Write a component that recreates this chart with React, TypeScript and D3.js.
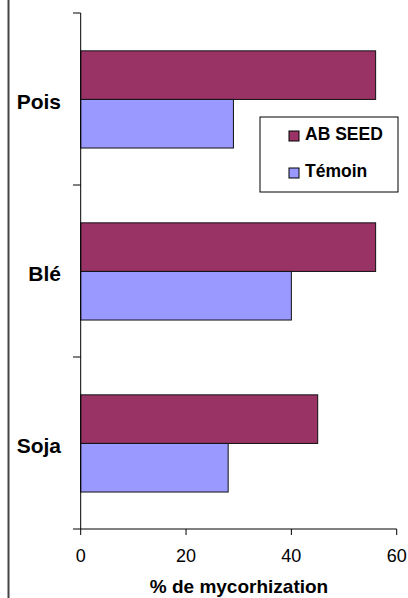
import React from "react";
import * as d3 from "d3";

const categories = ["Pois", "Blé", "Soja"];
const seriesNames = ["AB SEED", "Témoin"];
const abSeed = [56, 56, 45];
const temoin = [29, 40, 28];
const xTicks = [0, 20, 40, 60];
const xTitle = "% de mycorhization";
const colors = ["#993366", "#9999FF"];

const W = 408;
const H = 598;

export default function App() {
  const x = d3.scaleLinear().domain([0, 60]).range([80.7, 396.7]);
  const y = d3.scaleBand().domain(categories).range([13, 529]).padding(0);
  const bw = y.bandwidth();
  const inner = d3
    .scaleBand()
    .domain(seriesNames)
    .range([bw * 0.22, bw * 0.785])
    .padding(0);
  const values = [abSeed, temoin];
  const font = "Arial, 'Liberation Sans', sans-serif";
  const yTickPos = [...categories.map((c) => y(c) as number), 529];

  return (
    <svg
      width={W}
      height={H}
      style={{ position: "absolute", left: 0, top: 0 }}
      fontFamily={font}
    >
      <rect x={0} y={0} width={W} height={H} fill="#fff" />
      <line x1={8.5} y1={0} x2={8.5} y2={H} stroke="#444" strokeWidth={2} />
      {categories.map((c, ci) =>
        seriesNames.map((s, si) => {
          const v = values[si][ci];
          const top = (y(c) as number) + (inner(s) as number);
          return (
            <rect
              key={c + s}
              x={x(0)}
              y={top}
              width={x(v) - x(0)}
              height={inner.bandwidth()}
              fill={colors[si]}
              stroke="#111"
              strokeWidth={1}
            />
          );
        })
      )}
      {/* y axis */}
      <line x1={x(0)} y1={13} x2={x(0)} y2={529} stroke="#000" strokeWidth={1} />
      {yTickPos.map((p, i) => (
        <line key={i} x1={73} y1={p} x2={x(0)} y2={p} stroke="#000" strokeWidth={1} />
      ))}
      {categories.map((c) => (
        <text
          key={c}
          x={61}
          y={(y(c) as number) + bw / 2 + 9.5}
          textAnchor="end"
          fontSize={21}
          fontWeight="bold"
          fill="#000"
        >
          {c}
        </text>
      ))}
      {/* x axis */}
      <line x1={x(0)} y1={529} x2={x(60)} y2={529} stroke="#000" strokeWidth={1} />
      {xTicks.map((t) => (
        <g key={t}>
          <line x1={x(t)} y1={529} x2={x(t)} y2={535} stroke="#000" strokeWidth={1} />
          <text x={x(t)} y={562} textAnchor="middle" fontSize={18} fill="#000">
            {t}
          </text>
        </g>
      ))}
      <text
        x={239}
        y={593}
        textAnchor="middle"
        fontSize={19}
        fontWeight="bold"
        fill="#000"
      >
        {xTitle}
      </text>
      {/* legend */}
      <rect x={260} y={117} width={138} height={75} fill="#fff" stroke="#000" strokeWidth={1} />
      {seriesNames.map((s, i) => (
        <g key={s}>
          <rect
            x={289}
            y={131 + i * 37}
            width={10}
            height={10}
            fill={colors[i]}
            stroke="#000"
            strokeWidth={1}
          />
          <text x={305} y={140 + i * 37} fontSize={17.5} fontWeight="bold" fill="#000">
            {s}
          </text>
        </g>
      ))}
    </svg>
  );
}
